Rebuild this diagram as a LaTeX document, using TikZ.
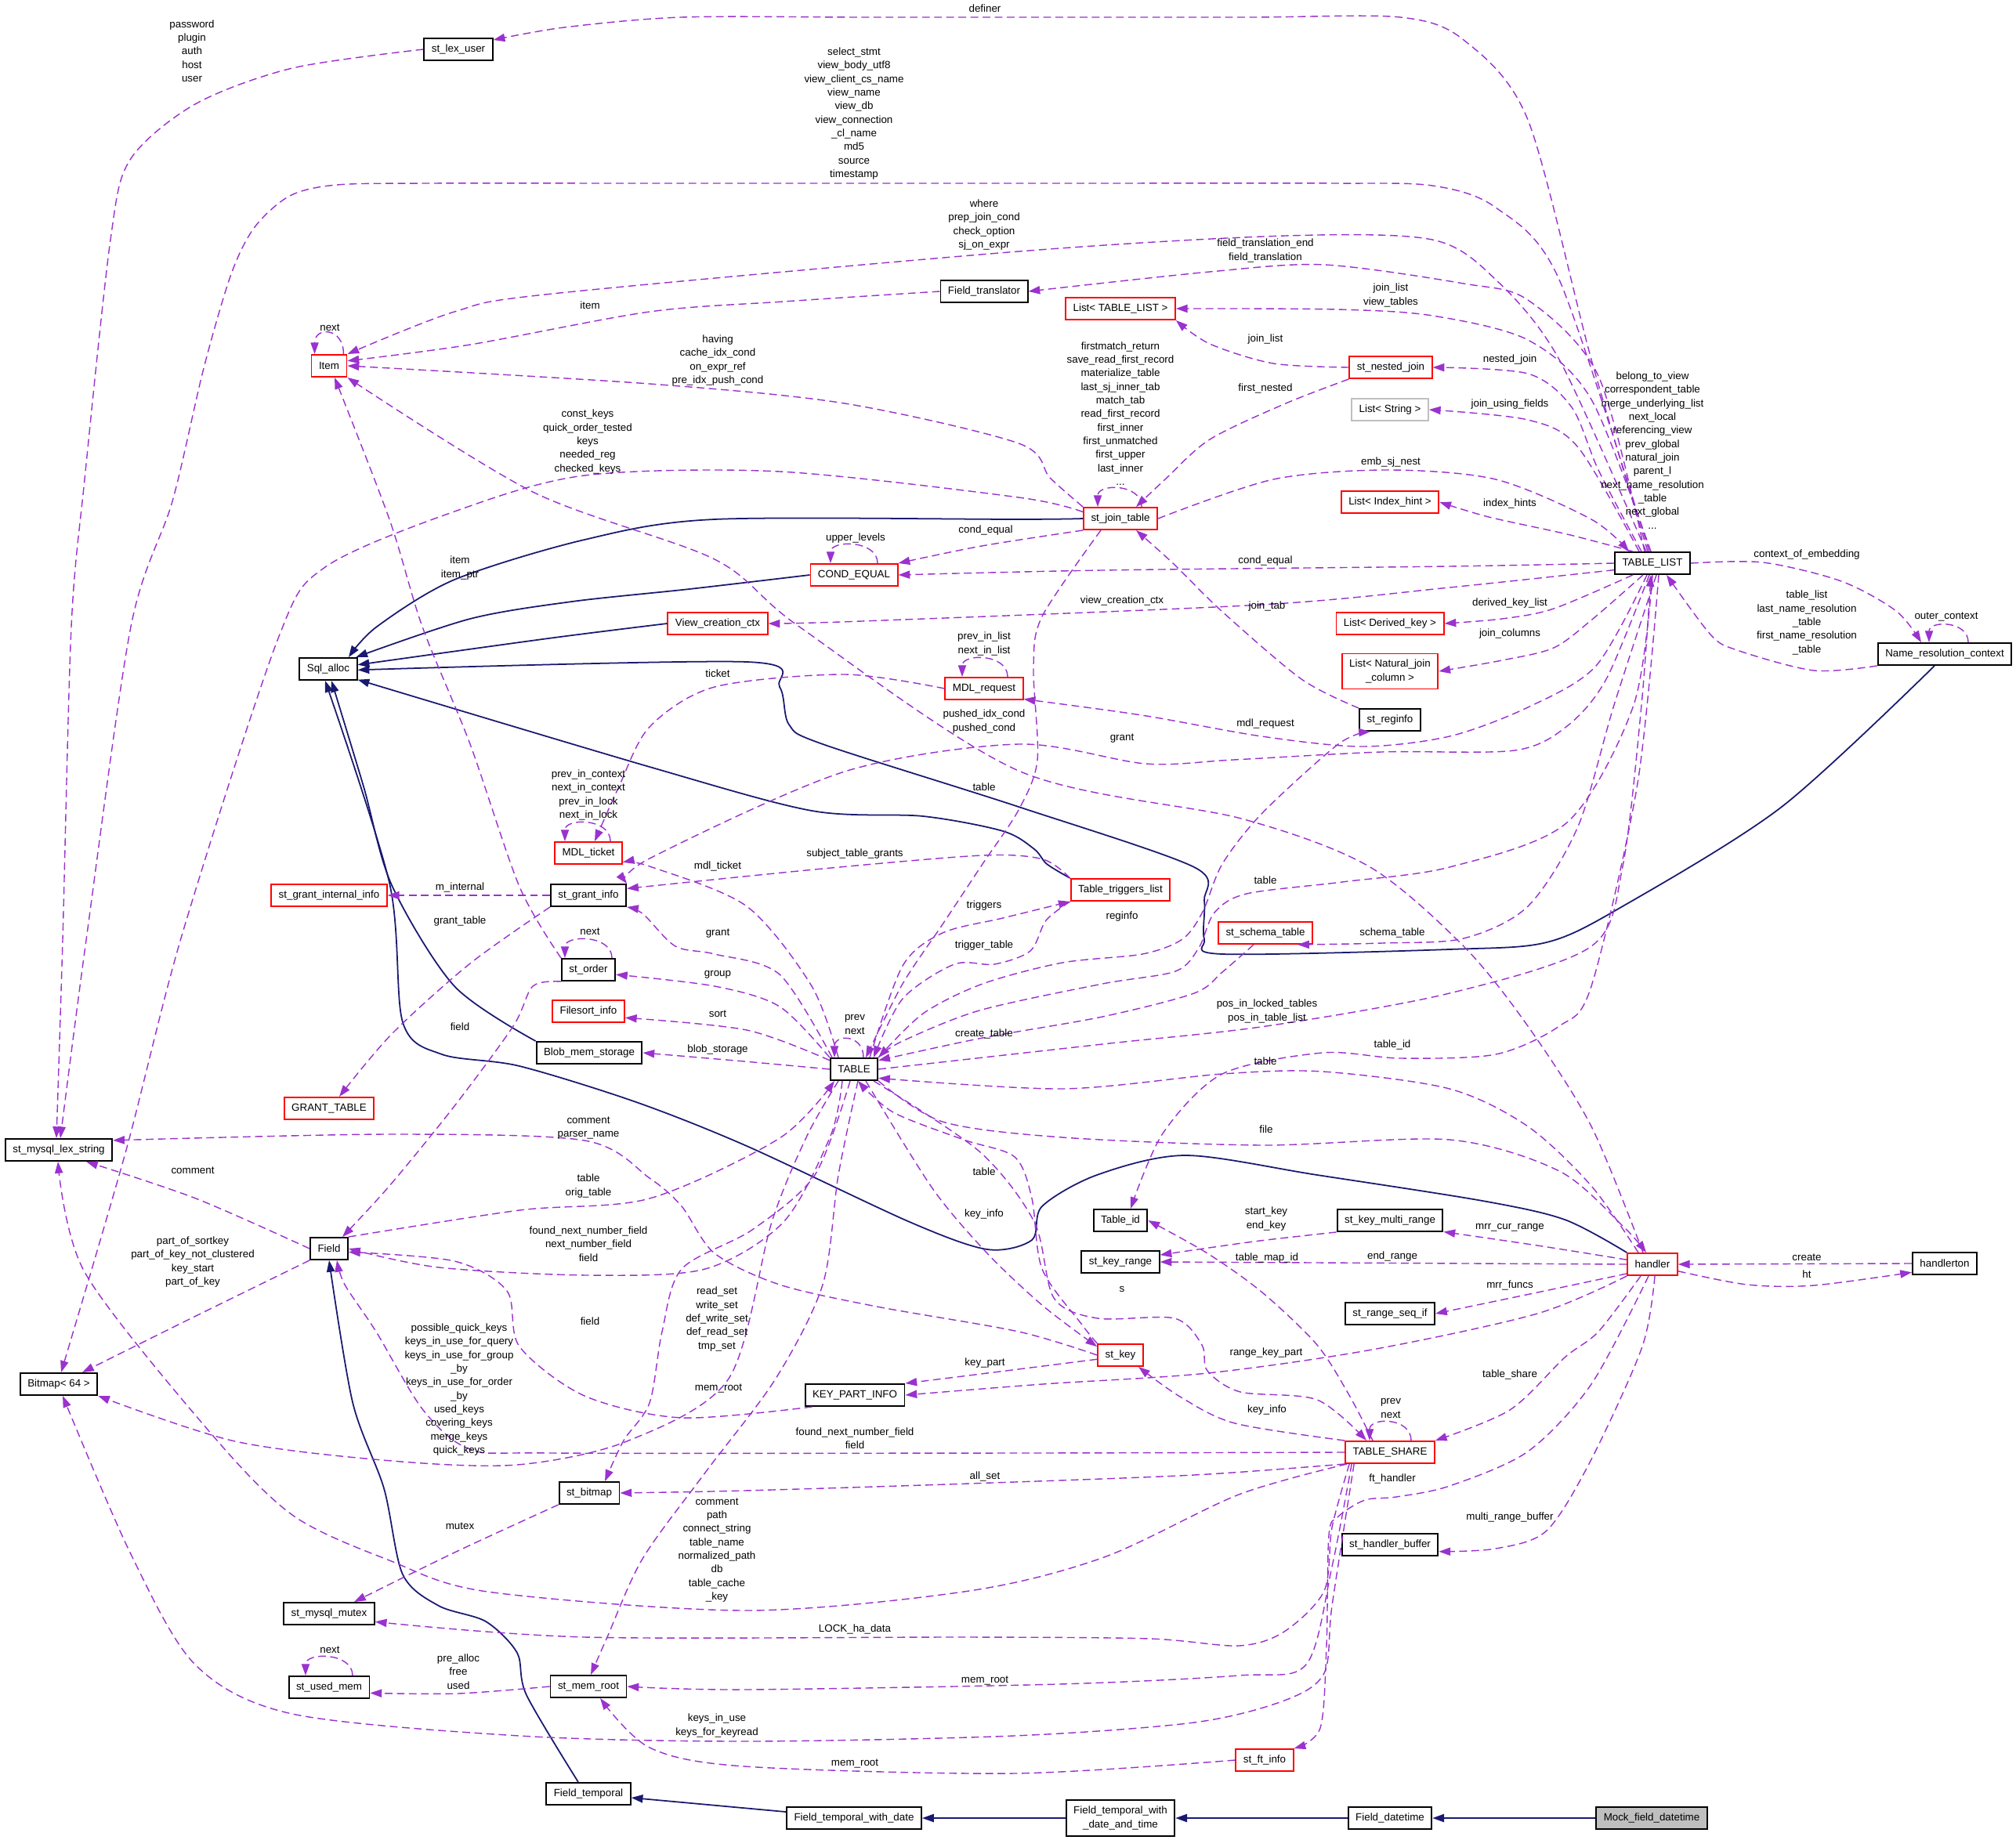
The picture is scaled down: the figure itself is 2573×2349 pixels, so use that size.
\documentclass[tikz,border=0pt]{standalone}
\usepackage{fontspec}
\setmainfont{Liberation Sans}
\usetikzlibrary{arrows.meta}
\definecolor{usecol}{RGB}{154,50,205}
\definecolor{isacol}{RGB}{25,25,112}
\definecolor{redbox}{RGB}{255,0,0}
\definecolor{greybox}{RGB}{191,191,191}
\tikzset{
  cls/.style={draw=black,line width=0.55pt,rectangle,minimum height=0.28cm,inner xsep=2.7pt,inner ysep=0pt,fill=white,align=center},
  clsred/.style={cls,draw=redbox},
  clsgrey/.style={cls,draw=greybox},
  clsroot/.style={cls,fill=greybox},
  lbl/.style={align=center,inner sep=0pt},
  uses/.style={draw=usecol,line width=0.4pt,dash pattern=on 2.8pt off 1.6pt,-{Triangle[length=4.2pt,width=2.9pt,fill=usecol]}},
  isa/.style={draw=isacol,line width=0.5pt,-{Triangle[length=4.2pt,width=2.9pt,fill=isacol]}}
}
\begin{document}
\begin{tikzpicture}[x=0.01cm,y=-0.01cm,font=\fontsize{3.8}{4.93}\selectfont]
\path[fill=white,use as bounding box] (0,0) rectangle (2573,2349);
\node[cls] (st_lex_user) at (585,63) {st\_lex\_user};
\node[cls] (Field_translator) at (1256,372) {Field\_translator};
\node[clsred] (Item) at (420,467) {Item};
\node[clsred] (COND_EQUAL) at (1090,734) {COND\_EQUAL};
\node[clsred] (View_creation_ctx) at (916,796) {View\_creation\_ctx};
\node[clsred] (List_TL) at (1430,394) {List< TABLE\_LIST >};
\node[clsred] (st_nested_join) at (1775,469) {st\_nested\_join};
\node[clsgrey] (List_String) at (1774,523) {List< String >};
\node[clsred] (st_join_table) at (1430,662) {st\_join\_table};
\node[clsred] (List_Index_hint) at (1774,641) {List< Index\_hint >};
\node[cls] (TABLE_LIST) at (2109,719) {TABLE\_LIST};
\node[clsred] (List_Derived_key) at (1774,796) {List< Derived\_key >};
\node[cls] (Name_resolution_context) at (2482,835) {Name\_resolution\_context};
\node[clsred,minimum height=0.45cm] (List_Natural_join) at (1774,857) {List< Natural\_join\\\_column >};
\node[cls] (st_reginfo) at (1774,919) {st\_reginfo};
\node[cls] (Sql_alloc) at (419,854) {Sql\_alloc};
\node[clsred] (MDL_request) at (1256,879) {MDL\_request};
\node[clsred] (MDL_ticket) at (751,1089) {MDL\_ticket};
\node[clsred] (st_grant_internal_info) at (420,1143) {st\_grant\_internal\_info};
\node[cls] (st_grant_info) at (751,1143) {st\_grant\_info};
\node[cls] (st_order) at (751,1238) {st\_order};
\node[clsred] (Filesort_info) at (751,1291) {Filesort\_info};
\node[cls] (Blob_mem_storage) at (752,1344) {Blob\_mem\_storage};
\node[cls] (TABLE) at (1090,1365) {TABLE};
\node[clsred] (Table_triggers_list) at (1430,1136) {Table\_triggers\_list};
\node[clsred] (st_schema_table) at (1615,1191) {st\_schema\_table};
\node[clsred] (GRANT_TABLE) at (420,1415) {GRANT\_TABLE};
\node[cls] (st_mysql_lex_string) at (75,1468) {st\_mysql\_lex\_string};
\node[cls] (Field) at (420,1594) {Field};
\node[cls] (Table_id) at (1430,1558) {Table\_id};
\node[cls] (st_key_multi_range) at (1774,1558) {st\_key\_multi\_range};
\node[cls] (st_key_range) at (1430,1611) {st\_key\_range};
\node[clsred] (handler) at (2109,1614) {handler};
\node[cls] (handlerton) at (2482,1613) {handlerton};
\node[cls] (st_range_seq_if) at (1774,1677) {st\_range\_seq\_if};
\node[clsred] (st_key) at (1430,1730) {st\_key};
\node[cls] (Bitmap) at (75,1767) {Bitmap< 64 >};
\node[cls] (KEY_PART_INFO) at (1091,1781) {KEY\_PART\_INFO};
\node[clsred] (TABLE_SHARE) at (1774,1854) {TABLE\_SHARE};
\node[cls] (st_bitmap) at (752,1906) {st\_bitmap};
\node[cls] (st_handler_buffer) at (1774,1972) {st\_handler\_buffer};
\node[cls] (st_mysql_mutex) at (420,2060) {st\_mysql\_mutex};
\node[cls] (st_used_mem) at (420,2154) {st\_used\_mem};
\node[cls] (st_mem_root) at (751,2153) {st\_mem\_root};
\node[clsred] (st_ft_info) at (1614,2247) {st\_ft\_info};
\node[cls] (Field_temporal) at (751,2290) {Field\_temporal};
\node[cls] (Field_temporal_with_date) at (1090,2321) {Field\_temporal\_with\_date};
\node[cls,minimum height=0.46cm] (Field_temporal_with_date_and_time) at (1430,2321) {Field\_temporal\_with\\\_date\_and\_time};
\node[cls] (Field_datetime) at (1774,2321) {Field\_datetime};
\node[clsroot] (Mock_field_datetime) at (2108,2321) {Mock\_field\_datetime};
\draw[isa] (Mock_field_datetime) -- (Field_datetime);
\draw[isa] (Field_datetime) -- (Field_temporal_with_date_and_time);
\draw[isa] (Field_temporal_with_date_and_time) -- (Field_temporal_with_date);
\draw[isa] (Field_temporal_with_date) -- (Field_temporal);
\draw[isa] plot[smooth] coordinates {([xshift=-0.13cm]Field_temporal.north) (672,2164) (660,2110) (620,2070) (560,2050) (514,2010) (490,1900) (450,1790) (Field.south)};
\draw[isa] plot[smooth] coordinates {(st_join_table.west) (1300,663) (912,663) (746,689) (580,740) (481,800) (Sql_alloc.30)};
\draw[isa] plot[smooth] coordinates {(COND_EQUAL.west) (880,752) (730,768) (600,790) (Sql_alloc.23)};
\draw[isa] plot[smooth] coordinates {(View_creation_ctx.west) (700,815) (Sql_alloc.8)};
\draw[isa] plot[smooth] coordinates {([xshift=-0.13cm]Name_resolution_context.south) (2274,1030) (2071,1157) (1974,1203) (1850,1212) (1560,1218) (1537,1199) (1537,1150) (1524,1107) (1300,1030) (1050,950) (1007,925) (995,877) (953,845) (Sql_alloc.-2)};
\draw[isa] plot[smooth] coordinates {(Table_triggers_list.north west) (1336,1103) (1320,1084) (1280,1061) (1178,1042) (1036,1035) (829,979) (Sql_alloc.-20)};
\draw[isa] plot[smooth] coordinates {(Blob_mem_storage.north west) (580,1259) (500,1130) (464,1004) ([xshift=0.04cm]Sql_alloc.south)};
\draw[isa] plot[smooth] coordinates {(handler.north west) (1997,1557) (1892,1533) (1681,1500) (1513,1475) (1400,1500) (1330,1540) (1317,1583) (1260,1595) (1161,1560) (953,1463) (812,1407) (663,1361) (564,1346) (514,1305) (497,1127) ([xshift=-0.04cm]Sql_alloc.south)};
\draw[uses] plot[smooth] coordinates {([xshift=-0.06cm]TABLE_LIST.north) (2031,459) (1950,153) (1868,51) (1787,22) (1600,22) (1350,22) (1100,22) (870,22) (720,35) (st_lex_user.15)};
\draw[uses] plot[smooth] coordinates {(st_lex_user.west) (373,87) (249,133) (166,204) (141,306) (108,612) (91,800) (80,1200) ([xshift=-0.03cm]st_mysql_lex_string.north)};
\draw[uses] plot[smooth] coordinates {([xshift=-0.04cm]TABLE_LIST.north) (1990,357) (1909,265) (1828,237) (1700,234) (1400,234) (1100,234) (800,234) (550,234) (430,236) (370,250) (325,290) (295,350) (260,470) (220,640) (167,800) (110,1200) ([xshift=0.02cm]st_mysql_lex_string.north)};
\draw[uses] plot[smooth] coordinates {([xshift=-0.08cm]TABLE_LIST.north) (1990,459) (1909,357) (1828,306) (1641,301) (1300,321) (705,375) (580,398) (Item.north east)};
\draw[uses] plot[smooth] coordinates {([xshift=-0.1cm]TABLE_LIST.north) (2040,480) (1950,383) (1868,362) (1690,338) (1544,347) (Field_translator.east)};
\draw[uses] plot[smooth] coordinates {(Field_translator.west) (1000,385) (829,398) (600,440) (Item.15)};
\draw[uses] plot[smooth] coordinates {(st_join_table.north west) (1340,610) (1300,566) (1078,515) (829,490) (Item.east)};
\draw[uses] ([xshift=-0.05cm]Item.north east) .. controls +(0,-35) and +(0,-35) .. ([xshift=0.05cm]Item.north west);
\draw[uses] plot[smooth] coordinates {(st_order.north west) (663,1132) (600,950) (539,800) (497,663) ([xshift=0.07cm]Item.south)};
\draw[uses] plot[smooth] coordinates {([xshift=-0.12cm]handler.north) (2031,1438) (1950,1310) (1868,1208) (1747,1106) (1584,1045) (1300,984) (1020,800) (912,714) (680,628) (Item.south east)};
\draw[uses] ([xshift=0.3cm]COND_EQUAL.north) .. controls +(0,-30) and +(0,-30) .. ([xshift=-0.3cm]COND_EQUAL.north);
\draw[uses] plot[smooth] coordinates {(st_join_table.south west) (1253,697) (COND_EQUAL.north east)};
\draw[uses] plot[smooth] coordinates {(TABLE_LIST.west) (1850,723) (1406,728) (COND_EQUAL.east)};
\draw[uses] plot[smooth] coordinates {(TABLE_LIST.190) (1850,750) (1610,772) (1100,793) (View_creation_ctx.east)};
\draw[uses] plot[smooth] coordinates {([xshift=-0.02cm]TABLE_LIST.north) (2031,510) (1950,434) (1828,403) (1706,395) (List_TL.east)};
\draw[uses] plot[smooth] coordinates {(st_nested_join.west) (1625,464) (1544,439) (List_TL.south east)};
\draw[uses] plot[smooth] coordinates {([xshift=-0.14cm]TABLE_LIST.north) (2040,600) (2006,520) (1950,477) (st_nested_join.east)};
\draw[uses] plot[smooth] coordinates {(st_nested_join.south west) (1641,515) (1544,561) (1487,612) ([xshift=0.2cm]st_join_table.north)};
\draw[uses] plot[smooth] coordinates {([xshift=-0.17cm]TABLE_LIST.north) (2014,571) (1950,536) (List_String.east)};
\draw[uses] ([xshift=0.27cm]st_join_table.north) .. controls +(0,-30) and +(0,-30) .. ([xshift=-0.29cm]st_join_table.north);
\draw[uses] plot[smooth] coordinates {(st_join_table.east) (1625,612) (1771,600) (1909,612) (2031,663) ([xshift=-0.3cm]TABLE_LIST.north)};
\draw[uses] plot[smooth] coordinates {([xshift=-0.25cm]TABLE_LIST.north) (2000,682) (1900,660) (List_Index_hint.east)};
\draw[uses] plot[smooth] coordinates {(TABLE_LIST.east) (2250,718) (2350,742) (2420,780) ([xshift=-0.3cm]Name_resolution_context.north)};
\draw[uses] ([xshift=0.3cm]Name_resolution_context.north) .. controls +(0,-28) and +(0,-28) .. ([xshift=-0.2cm]Name_resolution_context.north);
\draw[uses] plot[smooth] coordinates {(Name_resolution_context.south west) (2315,856) (2217,830) (2183,810) ([xshift=0.18cm]TABLE_LIST.south)};
\draw[uses] plot[smooth] coordinates {([xshift=-0.25cm]TABLE_LIST.south) (1983,777) (1917,790) (List_Derived_key.east)};
\draw[uses] plot[smooth] coordinates {([xshift=-0.12cm]TABLE_LIST.south) (2033,790) (1983,827) (1917,843) (List_Natural_join.east)};
\draw[uses] plot[smooth] coordinates {([xshift=-0.07cm]TABLE_LIST.south) (2037,850) (1950,903) (1850,940) (1738,953) (1610,940) (1457,913) (MDL_request.-15)};
\draw[uses] plot[smooth] coordinates {([xshift=-0.04cm]TABLE_LIST.south) (2050,867) (2000,927) (1933,958) (1763,960) (1574,970) (1462,975) (1300,950) (1078,985) (829,1096) (st_grant_info.north east)};
\draw[uses] plot[smooth] coordinates {(TABLE.east) (1407,1333) (1616,1310) (1850,1268) (2031,1208) (2071,1106) (2095,900) ([xshift=-0.02cm]TABLE_LIST.south)};
\draw[uses] plot[smooth] coordinates {(TABLE_LIST.south) (2085,900) (2000,1050) (1850,1107) (1713,1126) (1591,1141) (1550,1165) (1530,1210) (1500,1240) (1407,1256) (1250,1290) (1150,1330) (TABLE.north east)};
\draw[uses] plot[smooth] coordinates {([xshift=0.05cm]TABLE_LIST.south) (2060,900) (2014,1055) (1950,1157) (1868,1198) (1764,1204) (st_schema_table.-20)};
\draw[uses] plot[smooth] coordinates {([xshift=-0.15cm]st_schema_table.south) (1560,1241) (1524,1268) (1407,1298) (1254,1325) (TABLE.20)};
\draw[uses] plot[smooth] coordinates {(TABLE.north east) (1178,1294) (1254,1256) (1356,1229) (1458,1218) (1509,1199) (1535,1164) (1560,1103) (1611,1038) (1708,950) ([xshift=-0.25cm]st_reginfo.south)};
\draw[uses] plot[smooth] coordinates {([xshift=0.2cm]TABLE.north) (1152,1233) (1203,1191) (1280,1172) (Table_triggers_list.south west)};
\draw[uses] plot[smooth] coordinates {(Table_triggers_list.south west) (1335,1175) (1315,1214) (1269,1231) (1218,1231) (1152,1275) ([xshift=0.25cm]TABLE.north)};
\draw[uses] plot[smooth] coordinates {([xshift=-0.25cm]st_join_table.south) (1330,787) (1319,853) (1324,970) (1300,1034) (1254,1103) (1203,1180) (1152,1256) ([xshift=0.15cm]TABLE.north)};
\draw[uses] plot[smooth] coordinates {([xshift=-0.2cm]TABLE.north) (1036,1259) (953,1157) (829,1106) (MDL_ticket.-15)};
\draw[uses] plot[smooth] coordinates {([xshift=-0.28cm]TABLE.north) (995,1244) (912,1218) (862,1208) (821,1167) (st_grant_info.south east)};
\draw[uses] plot[smooth] coordinates {(TABLE.north west) (995,1285) (912,1259) (st_order.-10)};
\draw[uses] plot[smooth] coordinates {(TABLE.160) (953,1315) (Filesort_info.-10)};
\draw[uses] plot[smooth] coordinates {(TABLE.west) (950,1355) (Blob_mem_storage.east)};
\draw[uses] ([xshift=0.12cm]TABLE.north) .. controls +(0,-30) and +(0,-30) .. ([xshift=-0.25cm]TABLE.north);
\draw[uses] plot[smooth] coordinates {(st_key.west) (1300,1700) (1119,1668) (995,1640) (912,1600) (870,1540) (829,1504) (746,1456) (497,1448) (st_mysql_lex_string.10)};
\draw[uses] plot[smooth] coordinates {([xshift=0.15cm]TABLE.south) (1190,1517) (1260,1600) (1331,1667) (st_key.160)};
\draw[uses] plot[smooth] coordinates {(st_key.north west) (1380,1690) (1330,1620) (1317,1530) (1295,1477) (1230,1455) (1140,1420) ([xshift=0.05cm]TABLE.south)};
\draw[uses] plot[smooth] coordinates {([xshift=0.25cm]TABLE.south) (1250,1470) (1320,1560) (1345,1657) (1401,1683) (1499,1683) (1534,1717) (1541,1750) (1583,1777) (1681,1787) ([xshift=-0.3cm]TABLE_SHARE.north)};
\draw[uses] plot[smooth] coordinates {(st_key.190) (1260,1753) (KEY_PART_INFO.north east)};
\draw[uses] plot[smooth] coordinates {(handler.south west) (1962,1677) (1751,1723) (1541,1753) (1331,1767) (KEY_PART_INFO.east)};
\draw[uses] plot[smooth] coordinates {([xshift=0.1cm]KEY_PART_INFO.south west) (870,1810) (746,1782) (663,1719) (647,1648) (580,1610) (Field.-10)};
\draw[uses] plot[smooth] coordinates {([xshift=-0.15cm]TABLE.south) (1060,1450) (1000,1560) (900,1620) (751,1628) (560,1618) (Field.east)};
\draw[uses] plot[smooth] coordinates {(Field.north east) (663,1545) (829,1530) (995,1453) ([xshift=-0.25cm]TABLE.south)};
\draw[uses] plot[smooth] coordinates {([xshift=-0.05cm]TABLE.south) (1040,1500) (960,1570) (870,1620) (845,1700) (829,1791) (796,1839) ([xshift=0.2cm]st_bitmap.north)};
\draw[uses] plot[smooth] coordinates {([xshift=0.05cm]TABLE.south) (1070,1500) (1050,1640) (990,1760) (900,1880) (820,1990) (775,2090) ([xshift=0.03cm]st_mem_root.north)};
\draw[uses] plot[smooth] coordinates {([xshift=-0.2cm]TABLE.south) (1030,1450) (985,1560) (930,1760) (800,1840) (660,1870) (500,1865) (300,1840) (Bitmap.south east)};
\draw[uses] plot[smooth] coordinates {(TABLE_SHARE.west) (1300,1855) (705,1855) (600,1850) (540,1800) (480,1700) (440,1640) ([xshift=0.1cm]Field.south)};
\draw[uses] plot[smooth] coordinates {(TABLE_SHARE.south west) (1524,1883) (1237,1894) (950,1903) (st_bitmap.east)};
\draw[uses] plot[smooth] coordinates {([xshift=0.03cm]TABLE_SHARE.south west) (1581,1908) (1409,1988) (1237,2031) (953,2056) (622,2032) (497,1992) (373,1934) (265,1825) (108,1624) ([xshift=-0.01cm]st_mysql_lex_string.south)};
\draw[uses] plot[smooth] coordinates {([xshift=0.06cm]TABLE_SHARE.south west) (1700,1950) (1690,2031) (1639,2083) (1581,2101) (1467,2092) (1237,2090) (746,2090) (st_mysql_mutex.-10)};
\draw[uses] plot[smooth] coordinates {([xshift=0.09cm]TABLE_SHARE.south west) (1700,2000) (1667,2125) (1581,2139) (1352,2150) (950,2157) (st_mem_root.east)};
\draw[uses] plot[smooth] coordinates {([xshift=0.12cm]TABLE_SHARE.south west) (1700,2050) (1690,2136) (1639,2171) (1524,2199) (1294,2216) (950,2223) (663,2216) (373,2188) (249,2125) (166,1982) ([xshift=0.05cm]Bitmap.south)};
\draw[uses] plot[smooth] coordinates {([xshift=-0.05cm]handler.south) (2031,1767) (1950,1853) (1850,1897) (1782,1911) (1742,1915) (1708,1936) (1696,1960) (1693,2101) (1685,2206) (st_ft_info.north east)};
\draw[uses] plot[smooth] coordinates {(st_ft_info.west) (1294,2264) (950,2255) (829,2231) ([xshift=0.15cm]st_mem_root.south)};
\draw[uses] plot[smooth] coordinates {(st_mem_root.west) (585,2162) (st_used_mem.-8)};
\draw[uses] ([xshift=0.3cm]st_used_mem.north) .. controls +(0,-30) and +(0,-30) .. ([xshift=-0.3cm]st_used_mem.north);
\draw[uses] plot[smooth] coordinates {(st_bitmap.south west) (580,1982) ([xshift=0.32cm]st_mysql_mutex.north)};
\draw[uses] plot[smooth] coordinates {([xshift=-0.15cm]handler.south) (2040,1700) (1997,1733) (1927,1800) (TABLE_SHARE.north east)};
\draw[uses] plot[smooth] coordinates {([xshift=0.03cm]handler.south) (2096,1719) (2031,1863) (1974,1954) (1909,1977) (st_handler_buffer.-8)};
\draw[uses] plot[smooth] coordinates {(handler.200) (1962,1650) (st_range_seq_if.east)};
\draw[uses] plot[smooth] coordinates {(handler.170) (1962,1590) (st_key_multi_range.-12)};
\draw[uses] (handler.west) -- (st_key_range.east);
\draw[uses] plot[smooth] coordinates {(st_key_multi_range.south west) (1600,1585) (st_key_range.10)};
\draw[uses] plot[smooth] coordinates {([xshift=-0.22cm]TABLE_SHARE.north) (1723,1783) (1681,1717) (1611,1650) (1541,1600) (Table_id.east)};
\draw[uses] plot[smooth] coordinates {([xshift=0.08cm]TABLE_LIST.south) (2090,1000) (2031,1259) (1990,1310) (1909,1346) (1787,1351) (1688,1344) (1560,1371) (1484,1447) ([xshift=0.13cm]Table_id.north)};
\draw[uses] plot[smooth] coordinates {([xshift=-0.18cm]handler.north) (2031,1514) (1950,1438) (1850,1390) (1688,1368) (1560,1371) (1356,1390) (TABLE.-20)};
\draw[uses] plot[smooth] coordinates {(TABLE.south east) (1203,1432) (1356,1452) (1611,1462) (1850,1455) (1990,1495) (2071,1565) ([xshift=-0.08cm]handler.north)};
\draw[uses] plot[smooth] coordinates {(MDL_request.west) (1078,861) (912,877) (829,928) (790,1004) ([xshift=0.08cm]MDL_ticket.north)};
\draw[uses] ([xshift=0.3cm]MDL_request.north) .. controls +(0,-30) and +(0,-30) .. ([xshift=-0.28cm]MDL_request.north);
\draw[uses] ([xshift=0.28cm]MDL_ticket.north) .. controls +(0,-30) and +(0,-30) .. ([xshift=-0.3cm]MDL_ticket.north);
\draw[uses] plot[smooth] coordinates {(Table_triggers_list.north west) (1331,1097) (1254,1092) (1050,1109) (st_grant_info.10)};
\draw[uses] (st_grant_info.west) -- (st_grant_internal_info.east);
\draw[uses] plot[smooth] coordinates {(st_grant_info.south west) (600,1230) (500,1320) ([xshift=0.13cm]GRANT_TABLE.north)};
\draw[uses] ([xshift=0.3cm]st_order.north) .. controls +(0,-30) and +(0,-30) .. ([xshift=-0.3cm]st_order.north);
\draw[uses] plot[smooth] coordinates {(st_order.south west) (680,1259) (655,1310) (580,1412) (497,1514) ([xshift=0.17cm]Field.north)};
\draw[uses] plot[smooth] coordinates {(Field.west) (250,1530) ([xshift=0.35cm]st_mysql_lex_string.south)};
\draw[uses] plot[smooth] coordinates {(Field.south west) (250,1680) ([xshift=0.3cm]Bitmap.north)};
\draw[uses] plot[smooth] coordinates {(st_join_table.170) (1300,635) (995,602) (746,607) (580,653) (415,724) (355,815) (233,1191) (160,1472) ([xshift=0.03cm]Bitmap.north)};
\draw[uses] plot[smooth] coordinates {(st_reginfo.north west) (1661,867) (1559,780) (1498,720) ([xshift=0.2cm]st_join_table.south)};
\draw[uses] (handlerton.west) -- (handler.east);
\draw[uses] plot[smooth] coordinates {(handler.-15) (2230,1640) (2315,1641) (handlerton.-165)};
\draw[uses] ([xshift=0.27cm]TABLE_SHARE.north) .. controls +(0,-30) and +(0,-30) .. ([xshift=-0.26cm]TABLE_SHARE.north);
\draw[uses] plot[smooth] coordinates {(TABLE_SHARE.north west) (1576,1817) (1506,1783) ([xshift=0.23cm]st_key.south)};
\node[lbl] (l1) at (1257,11) {definer};
\node[lbl] (l2) at (245,65) {password\\plugin\\auth\\host\\user};
\node[lbl] (l3) at (1090,145) {select\_stmt\\view\_body\_utf8\\view\_client\_cs\_name\\view\_name\\view\_db\\view\_connection\\\_cl\_name\\md5\\source\\timestamp};
\node[lbl] (l4) at (1256,287) {where\\prep\_join\_cond\\check\_option\\sj\_on\_expr};
\node[lbl] (l5) at (1615,320) {field\_translation\_end\\field\_translation};
\node[lbl] (l6) at (753,390) {item};
\node[lbl] (l7) at (1775,377) {join\_list\\view\_tables};
\node[lbl] (l8) at (421,418) {next};
\node[lbl] (l9) at (1615,433) {join\_list};
\node[lbl] (l10) at (1927,459) {nested\_join};
\node[lbl] (l11) at (916,460) {having\\cache\_idx\_cond\\on\_expr\_ref\\pre\_idx\_push\_cond};
\node[lbl] (l12) at (1615,496) {first\_nested};
\node[lbl] (l13) at (1927,516) {join\_using\_fields};
\node[lbl] (l14) at (1430,528) {firstmatch\_return\\save\_read\_first\_record\\materialize\_table\\last\_sj\_inner\_tab\\match\_tab\\read\_first\_record\\first\_inner\\first\_unmatched\\first\_upper\\last\_inner\\...};
\node[lbl] (l15) at (2109,575) {belong\_to\_view\\correspondent\_table\\merge\_underlying\_list\\next\_local\\referencing\_view\\prev\_global\\natural\_join\\parent\_l\\next\_name\_resolution\\\_table\\next\_global\\...};
\node[lbl] (l16) at (750,564) {const\_keys\\quick\_order\_tested\\keys\\needed\_reg\\checked\_keys};
\node[lbl] (l17) at (1775,590) {emb\_sj\_nest};
\node[lbl] (l18) at (1927,643) {index\_hints};
\node[lbl] (l19) at (1258,677) {cond\_equal};
\node[lbl] (l20) at (1092,687) {upper\_levels};
\node[lbl] (l21) at (2306,708) {context\_of\_embedding};
\node[lbl] (l22) at (1615,716) {cond\_equal};
\node[lbl] (l23) at (587,725) {item\\item\_ptr};
\node[lbl] (l24) at (1432,767) {view\_creation\_ctx};
\node[lbl] (l25) at (1617,774) {join\_tab};
\node[lbl] (l26) at (1927,770) {derived\_key\_list};
\node[lbl] (l27) at (2484,788) {outer\_context};
\node[lbl] (l28) at (2306,795) {table\_list\\last\_name\_resolution\\\_table\\first\_name\_resolution\\\_table};
\node[lbl] (l29) at (1927,809) {join\_columns};
\node[lbl] (l30) at (1256,822) {prev\_in\_list\\next\_in\_list};
\node[lbl] (l31) at (916,860) {ticket};
\node[lbl] (l32) at (1256,921) {pushed\_idx\_cond\\pushed\_cond};
\node[lbl] (l33) at (1615,924) {mdl\_request};
\node[lbl] (l34) at (1432,943) {grant};
\node[lbl] (l35) at (1256,1005) {table};
\node[lbl] (l36) at (751,1015) {prev\_in\_context\\next\_in\_context\\prev\_in\_lock\\next\_in\_lock};
\node[lbl] (l37) at (1091,1090) {subject\_table\_grants};
\node[lbl] (l38) at (916,1106) {mdl\_ticket};
\node[lbl] (l39) at (1615,1124) {table};
\node[lbl] (l40) at (587,1133) {m\_internal};
\node[lbl] (l41) at (1256,1156) {triggers};
\node[lbl] (l42) at (1432,1170) {reginfo};
\node[lbl] (l43) at (587,1176) {grant\_table};
\node[lbl] (l44) at (753,1189) {next};
\node[lbl] (l45) at (1777,1191) {schema\_table};
\node[lbl] (l46) at (916,1192) {grant};
\node[lbl] (l47) at (1256,1207) {trigger\_table};
\node[lbl] (l48) at (916,1244) {group};
\node[lbl] (l49) at (1617,1291) {pos\_in\_locked\_tables\\pos\_in\_table\_list};
\node[lbl] (l50) at (916,1294) {sort};
\node[lbl] (l51) at (1091,1308) {prev\\next};
\node[lbl] (l52) at (587,1311) {field};
\node[lbl] (l53) at (1256,1320) {create\_table};
\node[lbl] (l54) at (1777,1334) {table\_id};
\node[lbl] (l55) at (916,1340) {blob\_storage};
\node[lbl] (l56) at (1615,1355) {table};
\node[lbl] (l57) at (751,1440) {comment\\parser\_name};
\node[lbl] (l58) at (1616,1442) {file};
\node[lbl] (l59) at (246,1494) {comment};
\node[lbl] (l60) at (1256,1496) {table};
\node[lbl] (l61) at (751,1514) {table\\orig\_table};
\node[lbl] (l62) at (1256,1550) {key\_info};
\node[lbl] (l63) at (1616,1556) {start\_key\\end\_key};
\node[lbl] (l64) at (1927,1567) {mrr\_cur\_range};
\node[lbl] (l65) at (751,1588) {found\_next\_number\_field\\next\_number\_field\\field};
\node[lbl] (l66) at (1777,1604) {end\_range};
\node[lbl] (l67) at (2306,1605) {create};
\node[lbl] (l68) at (1617,1606) {table\_map\_id};
\node[lbl] (l69) at (246,1611) {part\_of\_sortkey\\part\_of\_key\_not\_clustered\\key\_start\\part\_of\_key};
\node[lbl] (l70) at (2306,1627) {ht};
\node[lbl] (l71) at (1927,1641) {mrr\_funcs};
\node[lbl] (l72) at (1432,1646) {s};
\node[lbl] (l73) at (915,1684) {read\_set\\write\_set\\def\_write\_set\\def\_read\_set\\tmp\_set};
\node[lbl] (l74) at (753,1687) {field};
\node[lbl] (l75) at (1616,1727) {range\_key\_part};
\node[lbl] (l76) at (1257,1740) {key\_part};
\node[lbl] (l77) at (1927,1755) {table\_share};
\node[lbl] (l78) at (917,1772) {mem\_root};
\node[lbl] (l79) at (586,1774) {possible\_quick\_keys\\keys\_in\_use\_for\_query\\keys\_in\_use\_for\_group\\\_by\\keys\_in\_use\_for\_order\\\_by\\used\_keys\\covering\_keys\\merge\_keys\\quick\_keys};
\node[lbl] (l80) at (1775,1798) {prev\\next};
\node[lbl] (l81) at (1617,1800) {key\_info};
\node[lbl] (l82) at (1091,1836) {found\_next\_number\_field\\field};
\node[lbl] (l83) at (1257,1885) {all\_set};
\node[lbl] (l84) at (1777,1888) {ft\_handler};
\node[lbl] (l85) at (1927,1937) {multi\_range\_buffer};
\node[lbl] (l86) at (587,1948) {mutex};
\node[lbl] (l87) at (915,1979) {comment\\path\\connect\_string\\table\_name\\normalized\_path\\db\\table\_cache\\\_key};
\node[lbl] (l88) at (1091,2080) {LOCK\_ha\_data};
\node[lbl] (l89) at (421,2106) {next};
\node[lbl] (l90) at (585,2134) {pre\_alloc\\free\\used};
\node[lbl] (l91) at (1257,2145) {mem\_root};
\node[lbl] (l92) at (915,2203) {keys\_in\_use\\keys\_for\_keyread};
\node[lbl] (l93) at (1091,2251) {mem\_root};
\end{tikzpicture}
\end{document}
